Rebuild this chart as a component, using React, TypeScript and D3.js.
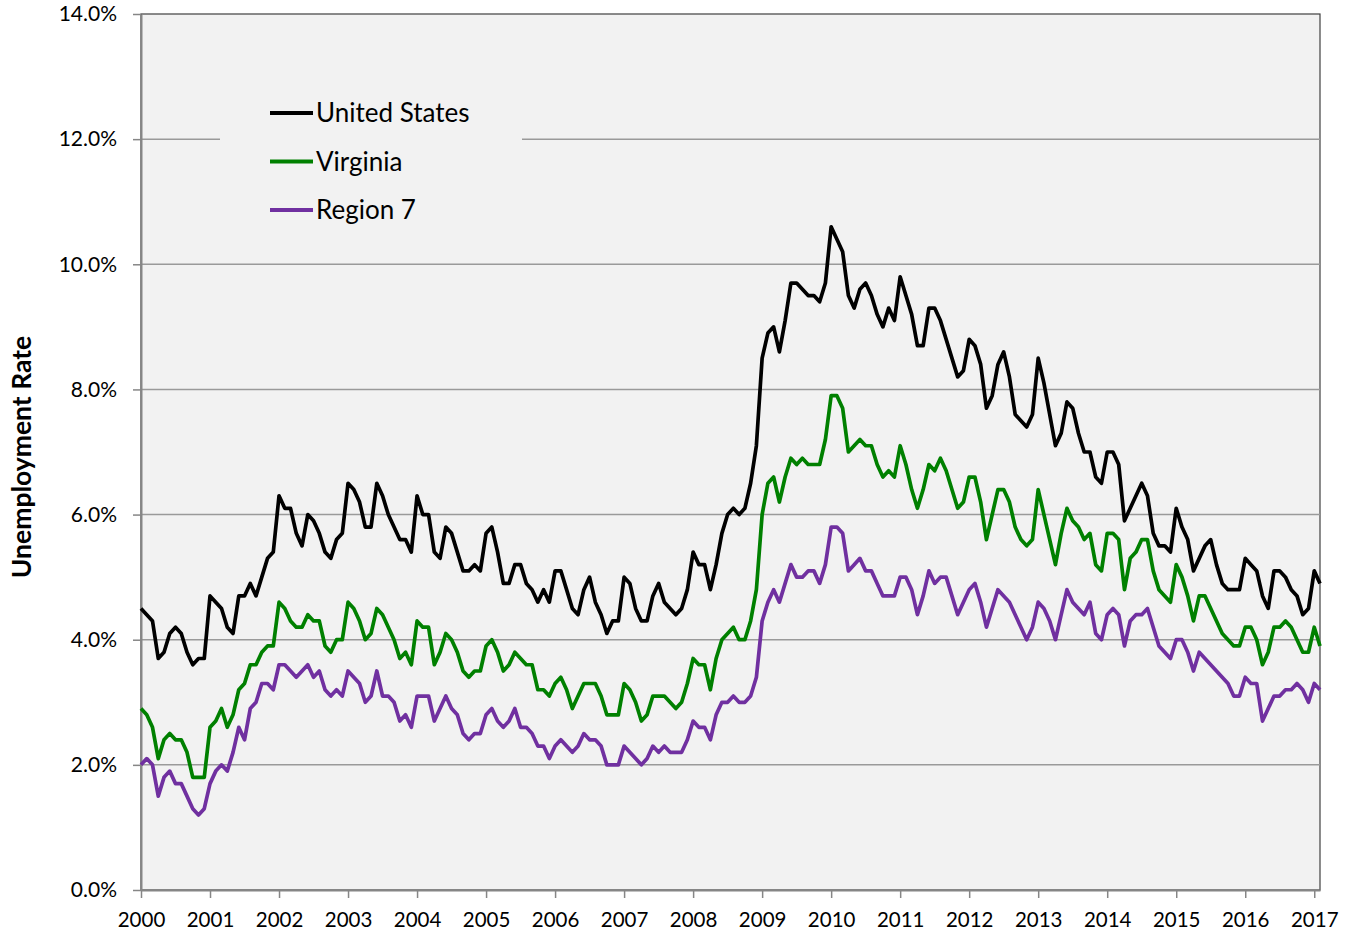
import React, { useRef, useEffect } from 'react';
import * as d3 from 'd3';

// monthly, Jan 2000 - Feb 2017
const years = ['2000', '2001', '2002', '2003', '2004', '2005', '2006', '2007', '2008',
    '2009', '2010', '2011', '2012', '2013', '2014', '2015', '2016', '2017'];
const yTicks = [0, 2, 4, 6, 8, 10, 12, 14];
const seriesNames = ['United States', 'Virginia', 'Region 7'];
const seriesColors = ['#000000', '#008000', '#7030a0'];

const usRate = [
    4.5, 4.4, 4.3, 3.7, 3.8, 4.1, 4.2, 4.1, 3.8, 3.6, 3.7, 3.7,
    4.7, 4.6, 4.5, 4.2, 4.1, 4.7, 4.7, 4.9, 4.7, 5.0, 5.3, 5.4,
    6.3, 6.1, 6.1, 5.7, 5.5, 6.0, 5.9, 5.7, 5.4, 5.3, 5.6, 5.7,
    6.5, 6.4, 6.2, 5.8, 5.8, 6.5, 6.3, 6.0, 5.8, 5.6, 5.6, 5.4,
    6.3, 6.0, 6.0, 5.4, 5.3, 5.8, 5.7, 5.4, 5.1, 5.1, 5.2, 5.1,
    5.7, 5.8, 5.4, 4.9, 4.9, 5.2, 5.2, 4.9, 4.8, 4.6, 4.8, 4.6,
    5.1, 5.1, 4.8, 4.5, 4.4, 4.8, 5.0, 4.6, 4.4, 4.1, 4.3, 4.3,
    5.0, 4.9, 4.5, 4.3, 4.3, 4.7, 4.9, 4.6, 4.5, 4.4, 4.5, 4.8,
    5.4, 5.2, 5.2, 4.8, 5.2, 5.7, 6.0, 6.1, 6.0, 6.1, 6.5, 7.1,
    8.5, 8.9, 9.0, 8.6, 9.1, 9.7, 9.7, 9.6, 9.5, 9.5, 9.4, 9.7,
    10.6, 10.4, 10.2, 9.5, 9.3, 9.6, 9.7, 9.5, 9.2, 9.0, 9.3, 9.1,
    9.8, 9.5, 9.2, 8.7, 8.7, 9.3, 9.3, 9.1, 8.8, 8.5, 8.2, 8.3,
    8.8, 8.7, 8.4, 7.7, 7.9, 8.4, 8.6, 8.2, 7.6, 7.5, 7.4, 7.6,
    8.5, 8.1, 7.6, 7.1, 7.3, 7.8, 7.7, 7.3, 7.0, 7.0, 6.6, 6.5,
    7.0, 7.0, 6.8, 5.9, 6.1, 6.3, 6.5, 6.3, 5.7, 5.5, 5.5, 5.4,
    6.1, 5.8, 5.6, 5.1, 5.3, 5.5, 5.6, 5.2, 4.9, 4.8, 4.8, 4.8,
    5.3, 5.2, 5.1, 4.7, 4.5, 5.1, 5.1, 5.0, 4.8, 4.7, 4.4, 4.5,
    5.1, 4.9,
];

const virginiaRate = [
    2.9, 2.8, 2.6, 2.1, 2.4, 2.5, 2.4, 2.4, 2.2, 1.8, 1.8, 1.8,
    2.6, 2.7, 2.9, 2.6, 2.8, 3.2, 3.3, 3.6, 3.6, 3.8, 3.9, 3.9,
    4.6, 4.5, 4.3, 4.2, 4.2, 4.4, 4.3, 4.3, 3.9, 3.8, 4.0, 4.0,
    4.6, 4.5, 4.3, 4.0, 4.1, 4.5, 4.4, 4.2, 4.0, 3.7, 3.8, 3.6,
    4.3, 4.2, 4.2, 3.6, 3.8, 4.1, 4.0, 3.8, 3.5, 3.4, 3.5, 3.5,
    3.9, 4.0, 3.8, 3.5, 3.6, 3.8, 3.7, 3.6, 3.6, 3.2, 3.2, 3.1,
    3.3, 3.4, 3.2, 2.9, 3.1, 3.3, 3.3, 3.3, 3.1, 2.8, 2.8, 2.8,
    3.3, 3.2, 3.0, 2.7, 2.8, 3.1, 3.1, 3.1, 3.0, 2.9, 3.0, 3.3,
    3.7, 3.6, 3.6, 3.2, 3.7, 4.0, 4.1, 4.2, 4.0, 4.0, 4.3, 4.8,
    6.0, 6.5, 6.6, 6.2, 6.6, 6.9, 6.8, 6.9, 6.8, 6.8, 6.8, 7.2,
    7.9, 7.9, 7.7, 7.0, 7.1, 7.2, 7.1, 7.1, 6.8, 6.6, 6.7, 6.6,
    7.1, 6.8, 6.4, 6.1, 6.4, 6.8, 6.7, 6.9, 6.7, 6.4, 6.1, 6.2,
    6.6, 6.6, 6.2, 5.6, 6.0, 6.4, 6.4, 6.2, 5.8, 5.6, 5.5, 5.6,
    6.4, 6.0, 5.6, 5.2, 5.7, 6.1, 5.9, 5.8, 5.6, 5.7, 5.2, 5.1,
    5.7, 5.7, 5.6, 4.8, 5.3, 5.4, 5.6, 5.6, 5.1, 4.8, 4.7, 4.6,
    5.2, 5.0, 4.7, 4.3, 4.7, 4.7, 4.5, 4.3, 4.1, 4.0, 3.9, 3.9,
    4.2, 4.2, 4.0, 3.6, 3.8, 4.2, 4.2, 4.3, 4.2, 4.0, 3.8, 3.8,
    4.2, 3.9,
];

const region7Rate = [
    2.0, 2.1, 2.0, 1.5, 1.8, 1.9, 1.7, 1.7, 1.5, 1.3, 1.2, 1.3,
    1.7, 1.9, 2.0, 1.9, 2.2, 2.6, 2.4, 2.9, 3.0, 3.3, 3.3, 3.2,
    3.6, 3.6, 3.5, 3.4, 3.5, 3.6, 3.4, 3.5, 3.2, 3.1, 3.2, 3.1,
    3.5, 3.4, 3.3, 3.0, 3.1, 3.5, 3.1, 3.1, 3.0, 2.7, 2.8, 2.6,
    3.1, 3.1, 3.1, 2.7, 2.9, 3.1, 2.9, 2.8, 2.5, 2.4, 2.5, 2.5,
    2.8, 2.9, 2.7, 2.6, 2.7, 2.9, 2.6, 2.6, 2.5, 2.3, 2.3, 2.1,
    2.3, 2.4, 2.3, 2.2, 2.3, 2.5, 2.4, 2.4, 2.3, 2.0, 2.0, 2.0,
    2.3, 2.2, 2.1, 2.0, 2.1, 2.3, 2.2, 2.3, 2.2, 2.2, 2.2, 2.4,
    2.7, 2.6, 2.6, 2.4, 2.8, 3.0, 3.0, 3.1, 3.0, 3.0, 3.1, 3.4,
    4.3, 4.6, 4.8, 4.6, 4.9, 5.2, 5.0, 5.0, 5.1, 5.1, 4.9, 5.2,
    5.8, 5.8, 5.7, 5.1, 5.2, 5.3, 5.1, 5.1, 4.9, 4.7, 4.7, 4.7,
    5.0, 5.0, 4.8, 4.4, 4.7, 5.1, 4.9, 5.0, 5.0, 4.7, 4.4, 4.6,
    4.8, 4.9, 4.6, 4.2, 4.5, 4.8, 4.7, 4.6, 4.4, 4.2, 4.0, 4.2,
    4.6, 4.5, 4.3, 4.0, 4.4, 4.8, 4.6, 4.5, 4.4, 4.6, 4.1, 4.0,
    4.4, 4.5, 4.4, 3.9, 4.3, 4.4, 4.4, 4.5, 4.2, 3.9, 3.8, 3.7,
    4.0, 4.0, 3.8, 3.5, 3.8, 3.7, 3.6, 3.5, 3.4, 3.3, 3.1, 3.1,
    3.4, 3.3, 3.3, 2.7, 2.9, 3.1, 3.1, 3.2, 3.2, 3.3, 3.2, 3.0,
    3.3, 3.2,
];

const FONT = 'Lato, "Open Sans", sans-serif';

const UnemploymentChart: React.FC = () => {
    const svgRef = useRef<SVGSVGElement | null>(null);

    useEffect(() => {
        const svg = d3.select(svgRef.current);
        svg.selectAll('*').remove();

        const left = 141, right = 1320, top = 14, bottom = 890;

        const xScale = d3.scaleLinear()
            .domain([0, usRate.length - 1])
            .range([left, right]);

        const yScale = d3.scaleLinear()
            .domain([0, 14])
            .range([bottom, top]);

        // plot area
        svg.append('rect')
            .attr('x', left)
            .attr('y', top)
            .attr('width', right - left)
            .attr('height', bottom - top)
            .attr('fill', '#f2f2f2')
            .attr('stroke', '#404040')
            .attr('stroke-width', 1.2);

        // gridlines
        svg.append('g')
            .selectAll('line')
            .data(yTicks.filter(t => t > 0 && t < 14))
            .enter()
            .append('line')
            .attr('x1', left)
            .attr('x2', right)
            .attr('y1', d => yScale(d))
            .attr('y2', d => yScale(d))
            .attr('stroke', '#9a9a9a')
            .attr('stroke-width', 1.5);

        const yAxis = d3.axisLeft(yScale)
            .tickValues(yTicks)
            .tickSize(8)
            .tickSizeOuter(0)
            .tickPadding(16)
            .tickFormat(d => `${(+d).toFixed(1)}%`);

        const yG = svg.append('g')
            .attr('transform', `translate(${left},0)`)
            .call(yAxis);

        const xAxis = d3.axisBottom(xScale)
            .tickValues(years.map((_, i) => i * 12))
            .tickSize(8)
            .tickSizeOuter(0)
            .tickPadding(14)
            .tickFormat((_, i) => years[i]);

        const xG = svg.append('g')
            .attr('transform', `translate(0,${bottom})`)
            .call(xAxis);

        [yG, xG].forEach(g => {
            g.select('.domain').attr('stroke', '#868686').attr('stroke-width', 2);
            g.selectAll('.tick line').attr('stroke', '#868686').attr('stroke-width', 1.5);
            g.selectAll('.tick text')
                .attr('fill', '#000')
                .style('font-family', FONT)
                .style('font-size', '20.5px');
        });
        yG.selectAll('.tick text').style('font-size', '21px');

        // series
        const line = d3.line<number>()
            .x((_, i) => xScale(i))
            .y(d => yScale(d));

        [usRate, virginiaRate, region7Rate].forEach((values, k) => {
            svg.append('path')
                .datum(values)
                .attr('d', line)
                .attr('fill', 'none')
                .attr('stroke', seriesColors[k])
                .attr('stroke-width', 3.7)
                .attr('stroke-linejoin', 'round');
        });

        // legend
        svg.append('rect')
            .attr('x', 220)
            .attr('y', 88)
            .attr('width', 302)
            .attr('height', 148)
            .attr('fill', '#f2f2f2');

        seriesNames.forEach((name, k) => {
            const ly = 113 + k * 48.5;
            svg.append('line')
                .attr('x1', 270)
                .attr('x2', 313)
                .attr('y1', ly)
                .attr('y2', ly)
                .attr('stroke', seriesColors[k])
                .attr('stroke-width', 4);
            svg.append('text')
                .attr('x', 316)
                .attr('y', ly)
                .attr('dy', '0.35em')
                .text(name)
                .style('font-family', FONT)
                .style('font-size', '26px');
        });

        // axis title
        svg.append('text')
            .attr('transform', 'translate(22,457) rotate(-90)')
            .attr('text-anchor', 'middle')
            .attr('dy', '0.35em')
            .text('Unemployment Rate')
            .style('font-family', FONT)
            .style('font-weight', 'bold')
            .style('font-size', '26.5px');
    }, []);

    return (
        <svg
            ref={svgRef}
            width={1345}
            height={936}
            style={{ position: 'absolute', left: 0, top: 0, background: '#fff' }}
        ></svg>
    );
};

export default UnemploymentChart;
